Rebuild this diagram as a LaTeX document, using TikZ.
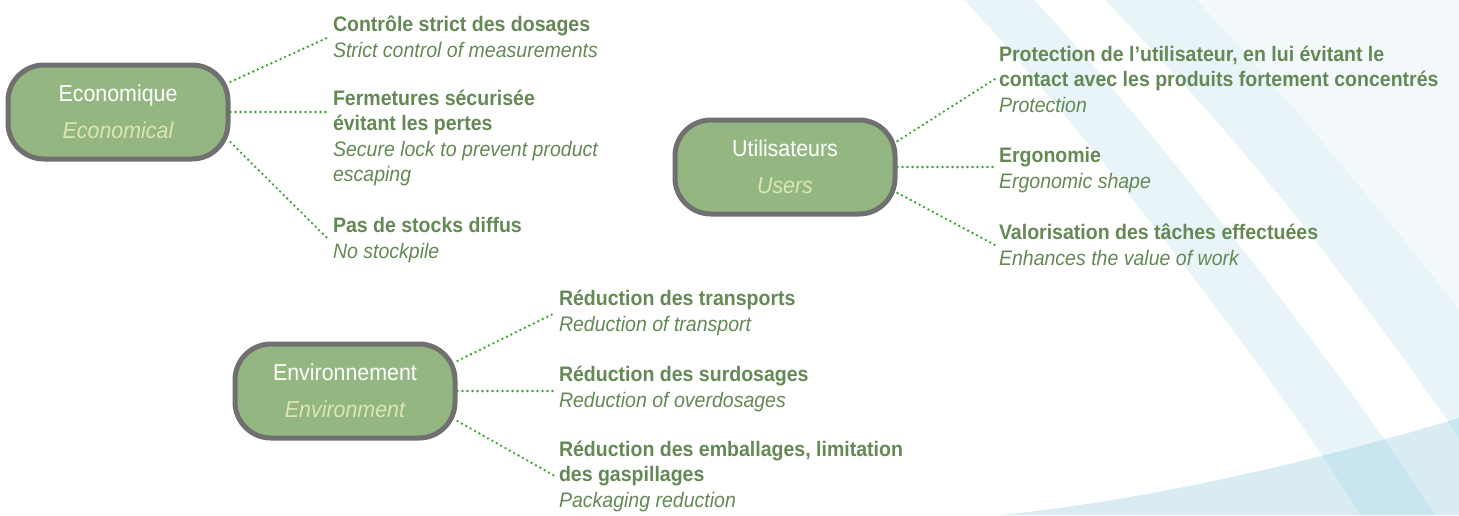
\documentclass[tikz,border=0pt]{standalone}
\usepackage{fontspec}
\setmainfont{Liberation Sans}[FakeStretch=0.93]
\usepackage{tikz}
\usetikzlibrary{positioning, calc}

\definecolor{boxfill}{RGB}{148,183,130}
\definecolor{boxline}{RGB}{112,112,112}
\definecolor{boxsub}{RGB}{220,230,178}
\definecolor{txtgreen}{RGB}{100,137,85}
\definecolor{dotgreen}{RGB}{52,165,42}
\definecolor{swoosh}{RGB}{140,200,222}

\tikzset{
    pillar/.style={rectangle, rounded corners=36pt, draw=boxline, line width=5pt,
        fill=boxfill, minimum width=220pt, minimum height=94pt, align=center,
        text=white, font=\fontsize{23}{37}\selectfont},
    point/.style={anchor=west, align=left, inner sep=0pt, outer sep=4pt,
        text=txtgreen, font=\fontsize{21}{25.5}\selectfont},
    link/.style={draw=dotgreen, line width=2.6pt, line cap=round,
        dash pattern=on 0pt off 5pt}
}

\begin{document}
\begin{tikzpicture}[x=1pt, y=-1pt]
    \fill[white] (0,0) rectangle (1459,515);
    \useasboundingbox (0,0) rectangle (1459,515);

    % background swooshes
    \fill[swoosh, opacity=0.1] (1196,0) -- (1459,0) -- (1459,310)
        .. controls (1380,210) and (1290,100) .. (1196,0) -- cycle;
    \fill[swoosh, opacity=0.2] (1105,0) -- (1196,0)
        .. controls (1290,100) and (1380,210) .. (1459,310) -- (1459,437)
        .. controls (1330,250) and (1230,130) .. (1105,0) -- cycle;
    \fill[swoosh, opacity=0.2] (964,0) -- (1034,0)
        .. controls (1130,100) and (1350,380) .. (1435,515) -- (1360,515)
        .. controls (1280,380) and (1060,100) .. (964,0) -- cycle;
    \fill[swoosh, opacity=0.33] (1000,515)
        .. controls (1150,500) and (1320,460) .. (1459,418) -- (1459,515) -- cycle;

    % main boxes
    \node[pillar] (eco) at (118,112) {Economique\\\textit{\color{boxsub}Economical}};
    \node[pillar] (util) at (785,167) {Utilisateurs\\\textit{\color{boxsub}Users}};
    \node[pillar] (env) at (345,391) {Environnement\\\textit{\color{boxsub}Environment}};

    % economique
    \node[point] (eco1) at (329,37) {\textbf{Contrôle strict des dosages}\\
        \textit{Strict control of measurements}};
    \node[point] (eco2) at (329,138) {\textbf{Fermetures sécurisée}\\
        \textbf{évitant les pertes}\\
        \textit{Secure lock to prevent product}\\
        \textit{escaping}};
    \node[point] (eco3) at (329,240) {\textbf{Pas de stocks diffus}\\
        \textit{No stockpile}};

    % utilisateurs
    \node[point] (util1) at (995,79) {\textbf{Protection de l’utilisateur, en lui évitant le}\\
        \textbf{contact avec les produits fortement concentrés}\\
        \textit{Protection}};
    \node[point] (util2) at (995,170) {\textbf{Ergonomie}\\
        \textit{Ergonomic shape}};
    \node[point] (util3) at (995,245) {\textbf{Valorisation des tâches effectuées}\\
        \textit{Enhances the value of work}};

    % environnement
    \node[point] (env1) at (555,313) {\textbf{Réduction des transports}\\
        \textit{Reduction of transport}};
    \node[point] (env2) at (555,389) {\textbf{Réduction des surdosages}\\
        \textit{Reduction of overdosages}};
    \node[point] (env3) at (555,476) {\textbf{Réduction des emballages, limitation}\\
        \textbf{des gaspillages}\\
        \textit{Packaging reduction}};

    % dotted links
    \foreach \from/\ang/\to in {eco/15/eco1, eco/-15/eco3, util/13/util1,
        util/-13/util3, env/15/env1, env/-15/env3}
    {
        \draw[link] (\from.\ang) -- (\to.west);
    }
    \foreach \from/\to in {eco/eco2, util/util2, env/env2}
    {
        \draw[link] (\from.east) -- (\from.east -| \to.west);
    }
\end{tikzpicture}
\end{document}
